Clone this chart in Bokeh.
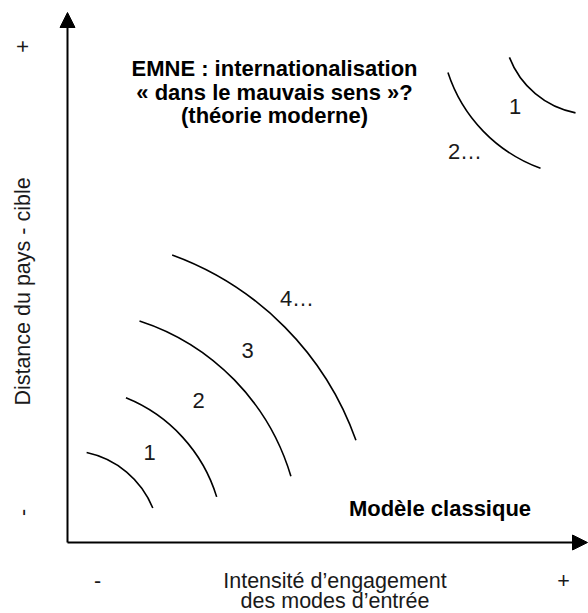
import math
from bokeh.plotting import figure
from bokeh.models import Range1d, Arrow, NormalHead, ColumnDataSource
from bokeh.core.properties import value
from bokeh.embed import file_html
from bokeh.resources import INLINE

# --- Diagram content (units: pixels relative to the axes origin) ---
# Classic model: concentric arcs around the origin
classic_radius = [92, 156, 233, 306]
classic_start_deg = [22, 17, 16.5, 19.5]
classic_end_deg = [78, 68, 72, 70]
classic_labels = ["1", "2", "3", "4…"]
classic_label_x = [82, 131, 180, 229.5]
classic_label_y = [90, 142, 192, 244]

# Modern theory (EMNE): arcs around the top-right corner
modern_center_x = 525
modern_center_y = 517
modern_radius = [89, 152]
modern_start_deg = [201, 198]
modern_end_deg = [259, 250]
modern_labels = ["1", "2…"]
modern_label_x = [447.5, 397.5]
modern_label_y = [436, 391]

title_lines = ["EMNE : internationalisation", "« dans le mauvais sens »?", "(théorie moderne)"]
title_x = 207
title_y = [474, 450, 427]

classic_title = "Modèle classique"
classic_title_x = 372.5
classic_title_y = 34
x_label_lines = ["Intensité d’engagement", "des modes d’entrée"]
x_label_y = [-38, -58]
x_end_marks = ["-", "+"]
x_end_marks_x = [30, 496]
y_label = "Distance du pays - cible"
y_label_x = -45
y_end_marks = ["-", "+"]
y_end_marks_y = [30, 496]

FONT = "Liberation Sans"
SIZE = "21.5px"

p = figure(width=588, height=613, output_backend="svg", toolbar_location=None,
           x_range=Range1d(-67, 521), y_range=Range1d(-71, 542),
           min_border=0, outline_line_color=None)
p.axis.visible = False
p.grid.visible = False
p.background_fill_color = "white"
p.border_fill_color = "white"

# axes arrows
p.add_layout(Arrow(end=NormalHead(size=15, fill_color="black", line_color="black", line_width=1),
                   x_start=0, y_start=0, x_end=0, y_end=530, line_width=2, line_color="black"))
p.add_layout(Arrow(end=NormalHead(size=15, fill_color="black", line_color="black", line_width=1),
                   x_start=0, y_start=0, x_end=520, y_end=0, line_width=2, line_color="black"))

# classic arcs
src_c = ColumnDataSource(dict(
    x=[0] * len(classic_radius), y=[0] * len(classic_radius), r=classic_radius,
    a0=[math.radians(a) for a in classic_start_deg],
    a1=[math.radians(a) for a in classic_end_deg]))
p.arc(x="x", y="y", radius="r", start_angle="a0", end_angle="a1",
      source=src_c, line_color="black", line_width=1.6)

src_m = ColumnDataSource(dict(
    x=[modern_center_x] * len(modern_radius), y=[modern_center_y] * len(modern_radius),
    r=modern_radius,
    a0=[math.radians(a) for a in modern_start_deg],
    a1=[math.radians(a) for a in modern_end_deg]))
p.arc(x="x", y="y", radius="r", start_angle="a0", end_angle="a1",
      source=src_m, line_color="black", line_width=1.6)

# arc labels
p.text(x=classic_label_x, y=classic_label_y, text=classic_labels,
       text_font=value(FONT), text_font_size="22px", text_align="center",
       text_baseline="alphabetic", text_color="#1a1a1a")
p.text(x=modern_label_x, y=modern_label_y, text=modern_labels,
       text_font=value(FONT), text_font_size="22px", text_align="center",
       text_baseline="alphabetic", text_color="#1a1a1a")

# titles
p.text(x=[title_x] * len(title_lines), y=title_y, text=title_lines,
       text_font=value(FONT), text_font_size="22px", text_font_style="bold",
       text_align="center", text_baseline="alphabetic", text_color="black")
p.text(x=[classic_title_x], y=[classic_title_y], text=[classic_title],
       text_font=value(FONT), text_font_size="22px", text_font_style="bold",
       text_align="center", text_baseline="alphabetic", text_color="black")

# x axis labels
p.text(x=[267.5, 267.5], y=x_label_y, text=x_label_lines,
       text_font=value(FONT), text_font_size=SIZE,
       text_align="center", text_baseline="alphabetic", text_color="#1a1a1a")
p.text(x=x_end_marks_x, y=[x_label_y[0]] * 2, text=x_end_marks,
       text_font=value(FONT), text_font_size=SIZE,
       text_align="center", text_baseline="alphabetic", text_color="#1a1a1a")

# y axis labels (rotated)
p.text(x=[y_label_x], y=[251], text=[y_label], angle=math.pi / 2,
       text_font=value(FONT), text_font_size=SIZE,
       text_align="center", text_baseline="alphabetic", text_color="#1a1a1a")
p.text(x=[y_label_x] * 2, y=y_end_marks_y, text=y_end_marks, angle=math.pi / 2,
       text_font=value(FONT), text_font_size=SIZE,
       text_align="center", text_baseline="alphabetic", text_color="#1a1a1a")

open("out.html", "w").write(file_html(p, INLINE))
